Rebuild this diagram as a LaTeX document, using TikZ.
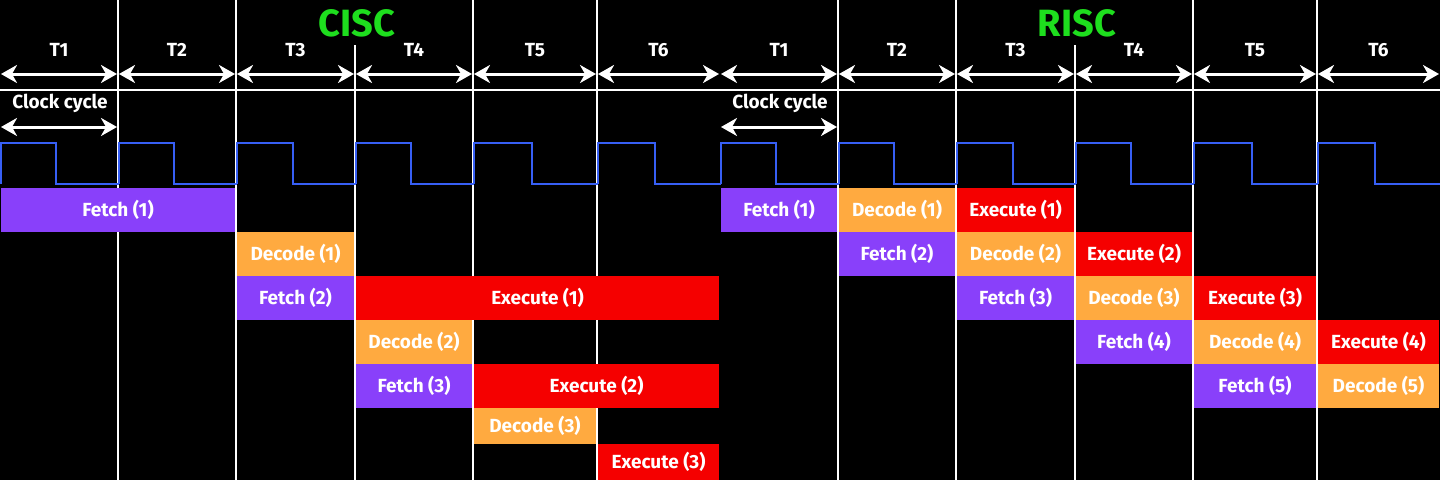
\documentclass[tikz,border=0pt]{standalone}
\usepackage{fontspec}
\setmainfont{Fira Sans}
\usepackage{tikz}
\usetikzlibrary{arrows.meta,calc}

\definecolor{fetchc}{RGB}{137,64,250}
\definecolor{decodec}{RGB}{255,170,64}
\definecolor{execc}{RGB}{245,0,0}
\definecolor{clockc}{RGB}{55,95,245}
\definecolor{titlec}{RGB}{30,222,30}

\begin{document}
\begin{tikzpicture}[x=1pt, y=-1pt,
    grid/.style={white, line width=2pt},
    span/.style={white, line width=3pt,
        {Stealth[length=16pt,width=18pt,inset=5pt]}-{Stealth[length=16pt,width=18pt,inset=5pt]},
        shorten <=1pt, shorten >=1pt},
    lbl/.style={text=white, font=\bfseries\fontsize{19}{22}\selectfont},
    stage/.style={lbl, inner sep=0pt, draw=none},
    ttl/.style={text=titlec, font=\bfseries\fontsize{38}{42}\selectfont}]
    %%Background
    \fill[black] (0,0) rectangle (1440,480);
    \useasboundingbox (0,0) rectangle (1440,480);
    %%Grid
    \foreach \x in {118,236,473,597,838,956,1193,1317}
        \draw[grid] (\x,0) -- (\x,480);
    \foreach \x in {355,1075}
        \draw[grid] (\x,45) -- (\x,480);
    \draw[grid] (0,90) -- (1440,90);

    %%Clock
    \foreach \xa/\xb in {0/118,118/236,236/355,355/473,473/597,597/720,
                         720/838,838/956,956/1075,1075/1193,1193/1317,1317/1440}
        \draw[clockc, line width=2pt] (\xa+1,184) -- (\xa+1,143)
            -- ({\xa+0.475*(\xb-\xa)},143) -- ({\xa+0.475*(\xb-\xa)},184) -- (\xb+1,184);

    %%Stages
    \foreach \n/\s/\xa/\xb/\ya/\yb/\t in {
        cf1/fetchc/0/236/188/232/Fetch (1),
        cd1/decodec/236/355/232/276/Decode (1),
        cf2/fetchc/236/355/276/320/Fetch (2),
        ce1/execc/355/720/276/320/Execute (1),
        cd2/decodec/355/473/320/364/Decode (2),
        cf3/fetchc/355/473/364/408/Fetch (3),
        ce2/execc/473/720/364/408/Execute (2),
        cd3/decodec/473/597/408/444/Decode (3),
        ce3/execc/597/720/444/480/Execute (3),
        rf1/fetchc/720/838/188/232/Fetch (1),
        rd1/decodec/838/956/188/232/Decode (1),
        re1/execc/956/1075/188/232/Execute (1),
        rf2/fetchc/838/956/232/276/Fetch (2),
        rd2/decodec/956/1075/232/276/Decode (2),
        re2/execc/1075/1193/232/276/Execute (2),
        rf3/fetchc/956/1075/276/320/Fetch (3),
        rd3/decodec/1075/1193/276/320/Decode (3),
        re3/execc/1193/1317/276/320/Execute (3),
        rf4/fetchc/1075/1193/320/364/Fetch (4),
        rd4/decodec/1193/1317/320/364/Decode (4),
        re4/execc/1317/1440/320/364/Execute (4),
        rf5/fetchc/1193/1317/364/408/Fetch (5),
        rd5/decodec/1317/1440/364/408/Decode (5)}
        \node[stage, fill=\s, minimum width={\xb-\xa-2}, minimum height={\yb-\ya}]
            (\n) at ({(\xa+\xb)/2},{(\ya+\yb)/2}) {\t};

    %%Time slots
    \foreach \x [count=\i from 0] in {0,118,236,355,473,597,720,838,956,1075,1193,1317,1440}
        \coordinate (t\i) at (\x,74);
    \foreach \i in {0,...,11} {
        \pgfmathtruncatemacro\j{\i+1}
        \pgfmathtruncatemacro\k{mod(\i,6)+1}
        \draw[span] (t\i) -- (t\j);
        \node[lbl] (slot\i) at ($(t\i)!0.5!(t\j)+(0,-24)$) {T\k};
    }

    %%Clock cycle
    \coordinate (cc0) at (0,127);
    \coordinate (cc1) at (118,127);
    \coordinate (rc0) at (720,127);
    \coordinate (rc1) at (838,127);
    \draw[span] (cc0) -- (cc1);
    \draw[span] (rc0) -- (rc1);
    \node[lbl] (ccyc) at (60,103) {Clock cycle};
    \node[lbl] (rcyc) at (780,103) {Clock cycle};

    %%Titles
    \node[ttl] (cisc) at (357,23) {CISC};
    \node[ttl] (risc) at (1077,23) {RISC};
\end{tikzpicture}
\end{document}
